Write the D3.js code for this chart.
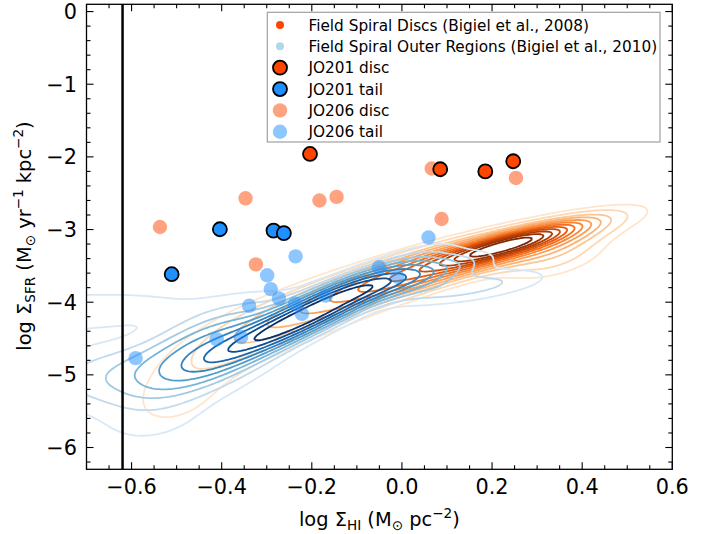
<!DOCTYPE html>
<html><head><meta charset="utf-8">
<script src="https://cdn.jsdelivr.net/npm/d3@7"></script>
<style>body{margin:0;background:#fff}text{font-family:"DejaVu Sans",sans-serif;fill:#000}</style>
</head><body><svg id="c" width="715" height="534"></svg>
<script>
// ---- data ----
const xMajorTicks=[-0.6,-0.4,-0.2,0.0,0.2,0.4,0.6];
const xTickLabels=["\u22120.6","\u22120.4","\u22120.2","0.0","0.2","0.4","0.6"];
const yMajorTicks=[0,-1,-2,-3,-4,-5,-6];
const yTickLabels=["0","\u22121","\u22122","\u22123","\u22124","\u22125","\u22126"];
const hiThreshold=-0.62;

const jo201DiscX=[-0.204,0.085,0.185,0.247];
const jo201DiscY=[-1.96,-2.17,-2.20,-2.06];
const jo201TailX=[-0.511,-0.404,-0.285,-0.262];
const jo201TailY=[-3.615,-2.996,-3.015,-3.05];
const jo206DiscX=[-0.537,-0.347,-0.183,-0.145,-0.324,0.066,0.253,0.088];
const jo206DiscY=[-2.965,-2.57,-2.60,-2.55,-3.48,-2.16,-2.29,-2.855];
const jo206TailX=[0.059,-0.236,-0.299,-0.291,-0.273,-0.339,-0.237,-0.222,-0.169,-0.411,-0.357,-0.591,-0.051,-0.01];
const jo206TailY=[-3.11,-3.37,-3.63,-3.82,-3.95,-4.05,-4.02,-4.16,-3.91,-4.51,-4.48,-4.77,-3.52,-3.65];

// KDE-like density components of the field samples (centre, x-spread, ridge slope, vertical scatter, weight)
const discCx=[0.23,0.2,0.0,-0.2,-0.38,-0.5,0.33];
const discCy=[-3.22,-3.3,-3.65,-4.1,-4.6,-5.4,-3.35];
const discSx=[0.08,0.15,0.13,0.13,0.12,0.1,0.08];
const discSlope=[1.66,1.6,1.9,2.1,2.4,1.5,1.2];
const discSv=[0.08,0.14,0.16,0.22,0.3,0.35,0.2];
const discW=[1.0,0.4,0.3,0.12,0.05,0.03,0.08];
const discLevels=[0.02,0.04,0.07,0.1,0.14,0.19,0.25,0.32,0.4,0.5,0.62,0.78];

const outerCx=[-0.206,-0.02,-0.42,-0.62,-0.78,0.13,-0.55];
const outerCy=[-4.17,-3.72,-4.65,-5.0,-4.15,-3.8,-5.6];
const outerSx=[0.12,0.1,0.1,0.13,0.25,0.12,0.1];
const outerSlope=[2.8,1.5,2.0,0.5,0.4,0.8,1.0];
const outerSv=[0.15,0.12,0.28,0.28,0.2,0.13,0.3];
const outerW=[1.0,0.35,0.35,0.11,0.06,0.1,0.04];
const outerLevels=[0.03,0.07,0.12,0.18,0.26,0.36,0.48,0.62,0.78];

const legendLabels=["Field Spiral Discs (Bigiel et al., 2008)","Field Spiral Outer Regions (Bigiel et al., 2010)","JO201 disc","JO201 tail","JO206 disc","JO206 tail"];

// ---- layout ----
const svg=d3.select("#c");
const L=86.5,R=672.3,T=4.3,B=469.3;
const xs=d3.scaleLinear().domain([-0.7,0.6]).range([L,R]);
const ys=d3.scaleLinear().domain([-6.3,0.1]).range([B,T]);

svg.append("defs").append("clipPath").attr("id","clip").append("rect")
  .attr("x",L).attr("y",T).attr("width",R-L).attr("height",B-T);

// density grid
const gx0=-1.2,gx1=0.9,gy0=-7.5,gy1=-1.0,nx=320,ny=320;
const sxStep=(gx1-gx0)/(nx-1),syStep=(gy1-gy0)/(ny-1);
function grid(cx,cy,sx,m,sv,w){
  const v=new Float64Array(nx*ny);
  for(let j=0;j<ny;j++){const y=gy0+j*syStep;
    for(let i=0;i<nx;i++){const x=gx0+i*sxStep;let s=0;
      for(let k=0;k<cx.length;k++){
        const a=sx[k]*sx[k],b=m[k]*a,d=m[k]*m[k]*a+sv[k]*sv[k],det=a*d-b*b;
        const dx=x-cx[k],dy=y-cy[k];
        const q=(d*dx*dx-2*b*dx*dy+a*dy*dy)/det;
        s+=w[k]*Math.exp(-q/2);
      }
      v[i+j*nx]=s;}}
  return v;
}
const proj=d3.geoPath(d3.geoTransform({point:function(gx,gy){
  this.stream.point(xs(gx0+(gx-0.5)*sxStep),ys(gy0+(gy-0.5)*syStep));}}));

function drawContours(vals,levels,interp,t0){
  const mx=d3.max(vals);
  const cs=d3.contours().size([nx,ny]).thresholds(levels.map(l=>l*mx))(vals);
  const g=svg.append("g").attr("clip-path","url(#clip)");
  g.selectAll("path").data(cs).join("path").attr("d",proj)
   .attr("fill","none").attr("stroke-width",1.8).attr("stroke-linejoin","round")
   .attr("stroke",(d,i)=>interp(t0+(1-t0)*i/(levels.length-1)));
}
drawContours(grid(discCx,discCy,discSx,discSlope,discSv,discW),discLevels,d3.interpolateOranges,0.12);
drawContours(grid(outerCx,outerCy,outerSx,outerSlope,outerSv,outerW),outerLevels,d3.interpolateBlues,0.15);

// threshold line
svg.append("line").attr("x1",xs(hiThreshold)).attr("x2",xs(hiThreshold)).attr("y1",T).attr("y2",B)
  .attr("stroke","#000").attr("stroke-width",2.5);

// points
const pg=svg.append("g").attr("clip-path","url(#clip)");
function pts(X,Y,fill,op,stroke){
  pg.append("g").selectAll("circle").data(X.map((x,i)=>[x,Y[i]])).join("circle")
   .attr("cx",d=>xs(d[0])).attr("cy",d=>ys(d[1])).attr("r",stroke?7:7.2)
   .attr("fill",fill).attr("fill-opacity",op)
   .attr("stroke",stroke?"#000":"none").attr("stroke-width",1.8);
}
pts(jo206DiscX,jo206DiscY,"#FF4500",0.5,false);
pts(jo206TailX,jo206TailY,"#1E90FF",0.5,false);
pts(jo201DiscX,jo201DiscY,"#FF4500",1,true);
pts(jo201TailX,jo201TailY,"#1E90FF",1,true);

// frame & ticks
svg.append("rect").attr("x",L).attr("y",T).attr("width",R-L).attr("height",B-T)
  .attr("fill","none").attr("stroke","#000").attr("stroke-width",1.3);
const tk=svg.append("g").attr("stroke","#000").attr("stroke-width",1.1);
const xMinor=d3.range(-14,13).map(i=>i*0.05);
const yMinor=d3.range(-31,1).map(i=>i*0.2);
xMinor.forEach(v=>{const major=xMajorTicks.some(t=>Math.abs(t-v)<1e-6);const len=major?7:4;const x=xs(v);
  tk.append("line").attr("x1",x).attr("x2",x).attr("y1",B).attr("y2",B-len);
  tk.append("line").attr("x1",x).attr("x2",x).attr("y1",T).attr("y2",T+len);});
yMinor.forEach(v=>{const major=yMajorTicks.some(t=>Math.abs(t-v)<1e-6);const len=major?7:4;const y=ys(v);
  tk.append("line").attr("x1",L).attr("x2",L+len).attr("y1",y).attr("y2",y);
  tk.append("line").attr("x1",R).attr("x2",R-len).attr("y1",y).attr("y2",y);});
xMajorTicks.forEach((v,i)=>svg.append("text").attr("x",xs(v)).attr("y",493.5)
  .attr("text-anchor","middle").attr("font-size",20.8).text(xTickLabels[i]));
yMajorTicks.forEach((v,i)=>svg.append("text").attr("x",77).attr("y",ys(v)+7.6)
  .attr("text-anchor","end").attr("font-size",20.8).text(yTickLabels[i]));

// axis labels
function mathLabel(t,parts){
  parts.forEach(p=>{const s=t.append("tspan").text(p[0]);
    if(p[1]==="sub")s.attr("font-size",13.6).attr("dy",4);
    if(p[1]==="sup")s.attr("font-size",13.6).attr("dy",-8);
    if(p[1]==="back")s.attr("dy",p[2]);});
}
const xl=svg.append("text").attr("x",379.4).attr("y",526).attr("text-anchor","middle").attr("font-size",19.4);
mathLabel(xl,[["log \u03A3"],["HI","sub"],[" (M","back",-4],["\u2299","sub"],[" pc","back",-4],["\u22122","sup"],[")","back",8]]);
const yl=svg.append("text").attr("transform","translate(31,236) rotate(-90)").attr("text-anchor","middle").attr("font-size",19.4);
mathLabel(yl,[["log \u03A3"],["SFR","sub"],[" (M","back",-4],["\u2299","sub"],[" yr","back",-4],["\u22121","sup"],[" kpc","back",8],["\u22122","sup"],[")","back",8]]);

// legend
const lg=svg.append("g");
lg.append("rect").attr("x",267.3).attr("y",12.3).attr("width",392.7).attr("height",129.7)
  .attr("fill","#fff").attr("stroke","#a0a0a0").attr("stroke-width",1.2);
const legMark=[["#FF4500",1,4,false],["#ADD8E6",1,4,false],["#FF4500",1,7,true],["#1E90FF",1,7,true],["#FF4500",0.5,7.2,false],["#1E90FF",0.5,7.2,false]];
legendLabels.forEach((lab,i)=>{const y=25+i*21.35;
  lg.append("circle").attr("cx",280).attr("cy",y).attr("r",legMark[i][2]).attr("fill",legMark[i][0])
    .attr("fill-opacity",legMark[i][1]).attr("stroke",legMark[i][3]?"#000":"none").attr("stroke-width",1.8);
  lg.append("text").attr("x",308.5).attr("y",y+5.5).attr("font-size",15.3).text(lab);});
</script></body></html>
